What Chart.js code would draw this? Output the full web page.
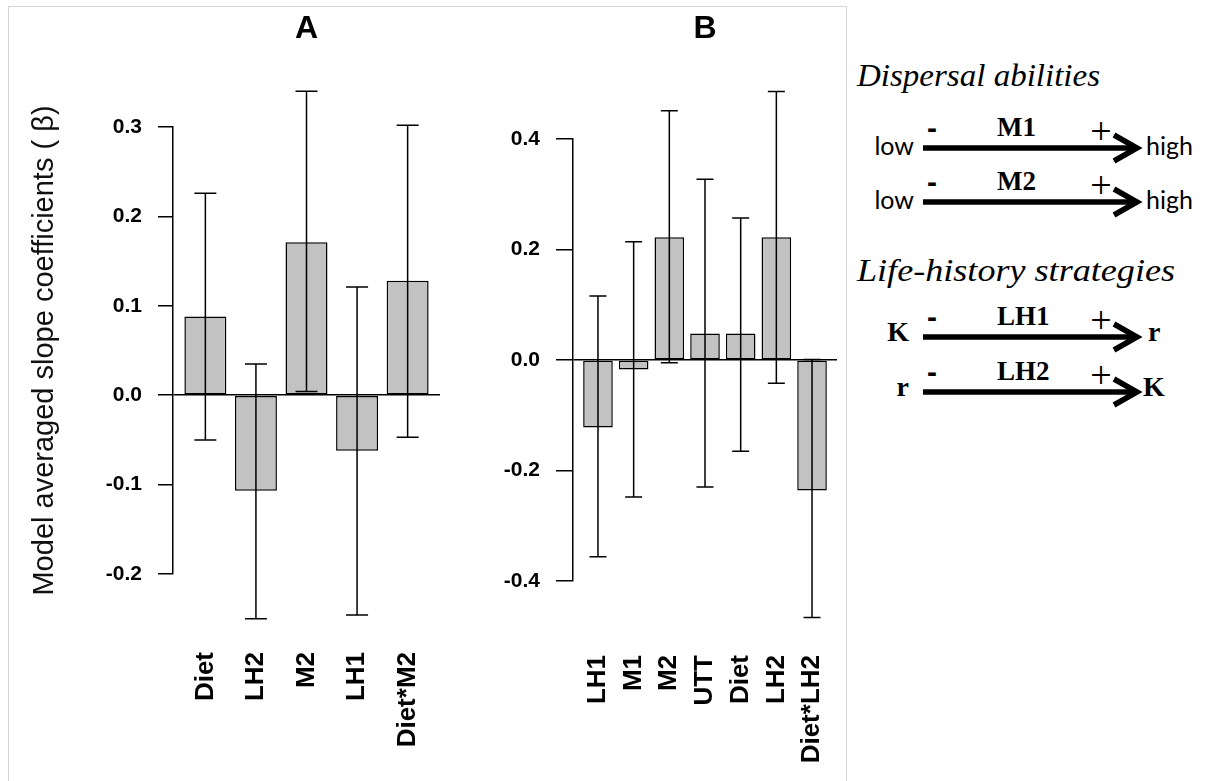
<!DOCTYPE html>
<html>
<head>
<meta charset="utf-8">
<script src="https://cdn.jsdelivr.net/npm/chart.js@4.4.1/dist/chart.umd.min.js"></script>
<style>
    body { margin: 0; background: #fff; width: 1206px; height: 781px; overflow: hidden; position: relative; }
    #frame { position: absolute; left: 8px; top: 6px; width: 839px; height: 800px; border: 1px solid #d4d4d4; box-sizing: border-box; }
    canvas { position: absolute; top: 0; }
    #chartA { left: 0; }
    #chartB { left: 460px; }
    #key { position: absolute; left: 0; top: 0; }
    #key .head { font-family: "Liberation Serif"; font-style: italic; font-size: 32px; }
    #key .name { font-family: "Liberation Serif"; font-weight: bold; font-size: 27px; }
    #key .sign { font-family: "Liberation Serif"; font-size: 38px; }
    #key .dash { font-family: "Liberation Sans"; font-weight: bold; font-size: 30px; }
    #key .word { font-family: Lato; font-size: 25px; }
    #key .letter { font-family: "Liberation Serif"; font-weight: bold; font-size: 28px; }
</style>
</head>
<body>
<div id="frame"></div>
<svg id="key" width="1206" height="781"></svg>
<canvas id="chartA" width="460" height="781"></canvas>
<canvas id="chartB" width="388" height="781"></canvas>

<script>
// Panel A
const labelsA = ['Diet', 'LH2', 'M2', 'LH1', 'Diet*M2'];
const betaA = [0.088, -0.107, 0.171, -0.062, 0.128];
const lowerA = [-0.050, -0.250, 0.004, -0.246, -0.047];
const upperA = [0.226, 0.035, 0.340, 0.121, 0.302];
const yTicksA = [-0.2, 0.3, 0.1];   // min, max, step

// Panel B
const labelsB = ['LH1', 'M1', 'M2', 'UTT', 'Diet', 'LH2', 'Diet*LH2'];
const betaB = [-0.122, -0.017, 0.222, 0.048, 0.048, 0.222, -0.236];
const lowerB = [-0.356, -0.248, -0.005, -0.230, -0.165, -0.042, -0.466];
const upperB = [0.116, 0.214, 0.451, 0.327, 0.257, 0.486, 0.001];
const yTicksB = [-0.4, 0.4, 0.2];

const yTitle = 'Model averaged slope coefficients ( \u03b2)';

Chart.defaults.font.family = 'Liberation Sans';
Chart.defaults.color = '#000';

// R style whiskers, drawn over the bars and not clipped
const errorBars = {
    id: 'errorBars',
    afterDatasetsDraw(chart, args, opts) {
        const { ctx, scales: { x, y } } = chart;
        ctx.save();
        ctx.strokeStyle = '#000';
        ctx.lineWidth = 1.5;
        opts.lower.forEach((lo, i) => {
            const px = x.getPixelForValue(i + 1);
            const top = y.getPixelForValue(opts.upper[i]);
            const bot = y.getPixelForValue(lo);
            const h = opts.cap / 2;
            ctx.beginPath();
            ctx.moveTo(px, top); ctx.lineTo(px, bot);
            ctx.moveTo(px - h, top); ctx.lineTo(px + h, top);
            ctx.moveTo(px - h, bot); ctx.lineTo(px + h, bot);
            ctx.stroke();
        });
        ctx.restore();
    }
};

function makePanel(id, p) {
    const ctx = document.getElementById(id).getContext('2d');
    return new Chart(ctx, {
        type: 'bar',
        data: {
            datasets: [{
                data: p.labels.map((l, i) => ({ x: i + 1, y: p.beta[i] })),
                backgroundColor: '#c2c2c2',
                borderColor: '#000',
                borderWidth: 1.5,
                borderSkipped: false,
                barPercentage: 1,
                categoryPercentage: 0.83
            }]
        },
        options: {
            responsive: false,
            animation: false,
            layout: { padding: { left: 0, top: 0, right: p.padRight, bottom: 0 } },
            plugins: {
                legend: { display: false },
                tooltip: { enabled: false },
                title: {
                    display: true,
                    text: p.title,
                    fullSize: false,
                    font: { size: 32, weight: 'bold' },
                    padding: { top: 10, bottom: p.titleGap }
                },
                errorBars: { lower: p.lower, upper: p.upper, cap: p.cap }
            },
            scales: {
                x: {
                    type: 'linear',
                    offset: false,
                    min: 1 - p.edge,
                    max: p.labels.length + p.edge,
                    // invisible tick marks keep the labels well below the plot
                    grid: {
                        display: true,
                        drawOnChartArea: false,
                        drawTicks: true,
                        tickLength: p.labelGap,
                        tickColor: 'rgba(0,0,0,0)'
                    },
                    border: { display: false },
                    afterFit: s => { s.height = p.xHeight; },
                    ticks: {
                        stepSize: 1,
                        includeBounds: false,
                        autoSkip: false,
                        minRotation: 90,
                        maxRotation: 90,
                        padding: 2,
                        font: { size: 26, weight: 'bold' },
                        callback: v => Number.isInteger(v) ? p.labels[v - 1] : ''
                    }
                },
                y: {
                    min: p.yTicks[0],
                    max: p.yTicks[1],
                    afterFit: s => { s.width = p.yWidth; },
                    border: { display: true, color: '#000', width: 1.5 },
                    grid: {
                        color: c => Math.abs(c.tick.value) < 1e-9 ? '#000' : 'rgba(0,0,0,0)',
                        lineWidth: 1.5,
                        tickColor: '#000',
                        tickLength: p.tickLen
                    },
                    ticks: {
                        stepSize: p.yTicks[2],
                        autoSkip: false,
                        padding: 16,
                        font: { size: 21, weight: 'bold' },
                        callback: v => v.toFixed(1)
                    },
                    title: {
                        display: !!p.yTitle,
                        text: p.yTitle,
                        font: { size: 29 },
                        color: '#111',
                        padding: { top: 28, bottom: 0 }
                    }
                }
            }
        },
        plugins: [errorBars]
    });
}

makePanel('chartA', {
    title: 'A', labels: labelsA, beta: betaA, lower: lowerA, upper: upperA, yTicks: yTicksA,
    yTitle: yTitle, yWidth: 173, padRight: 20, titleGap: 78.6, xHeight: 207,
    labelGap: 76, edge: 0.64, cap: 22, tickLen: 15
});

makePanel('chartB', {
    title: 'B', labels: labelsB, beta: betaB, lower: lowerB, upper: upperB, yTicks: yTicksB,
    yTitle: '', yWidth: 113, padRight: 11, titleGap: 90.6, xHeight: 200,
    labelGap: 72, edge: 0.7, cap: 17, tickLen: 17
});

// key on the right: two variable groups drawn as arrows
const keyHeads = [['Dispersal abilities', 86, 243], ['Life-history strategies', 281, 318]];
const keyRows = [
    { name: 'M1', from: 'low', to: 'high', y: 148, cls: 'word', toX: 1146 },
    { name: 'M2', from: 'low', to: 'high', y: 202, cls: 'word', toX: 1146 },
    { name: 'LH1', from: 'K', to: 'r', y: 337, cls: 'letter', toX: 1148 },
    { name: 'LH2', from: 'r', to: 'K', y: 392, cls: 'letter', toX: 1143 }
];

const svg = document.getElementById('key');
let out = '';
keyHeads.forEach(([t, y, w]) => {
    out += `<text class="head" x="857" y="${y}" textLength="${w}" lengthAdjust="spacingAndGlyphs">${t}</text>`;
});
keyRows.forEach(r => {
    const y = r.y;
    const word = r.cls === 'word';
    const base = y + (word ? 7 : 4);
    out += `<text class="${r.cls}" x="${word ? 914 : 909}" y="${base}" text-anchor="end">${r.from}</text>`;
    out += `<text class="${r.cls}" x="${r.toX}" y="${base}">${r.to}</text>`;
    out += `<text class="name" x="997" y="${y - 12}">${r.name}</text>`;
    out += `<text class="dash" x="932" y="${y - 10}" text-anchor="middle">-</text>`;
    out += `<text class="sign" x="1101" y="${y - 4}" text-anchor="middle">+</text>`;
    out += `<line x1="923" y1="${y}" x2="1132" y2="${y}" stroke="#000" stroke-width="5.5"/>`;
    out += `<polyline points="1114,${y - 13} 1137,${y} 1114,${y + 13}" fill="none" stroke="#000" stroke-width="5.5"/>`;
});
svg.innerHTML = out;
</script>
</body>
</html>
